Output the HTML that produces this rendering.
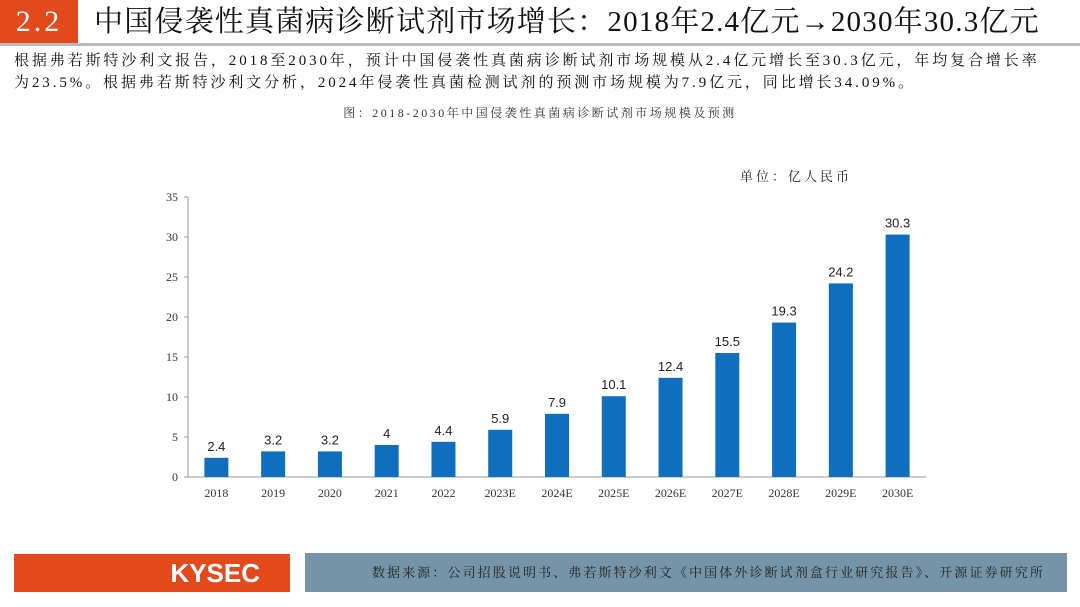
<!DOCTYPE html>
<html><head><meta charset="utf-8"><style>
body{margin:0;width:1080px;height:607px;background:#fff;position:relative;overflow:hidden;font-family:"Liberation Serif","Noto Serif CJK SC",serif;}
.abs{position:absolute;}
</style></head><body>
<div class="abs" style="left:0;top:0;width:78px;height:43px;background:#e2491c;color:#fff;font-size:30px;line-height:43px;text-align:center;letter-spacing:3px;">2.2</div>
<div class="abs" style="left:94px;top:2px;font-size:29px;line-height:40px;color:#111;white-space:nowrap;letter-spacing:1.2px;">中国侵袭性真菌病诊断试剂市场增长：2018年2.4亿元→2030年30.3亿元</div>
<div class="abs" style="left:0;top:43px;width:1080px;height:3px;background:#b8bcc0;"></div>
<div class="abs" style="left:14px;top:50px;width:1066px;font-size:15px;line-height:22px;color:#111;white-space:nowrap;letter-spacing:2.9px;">根据弗若斯特沙利文报告，2018至2030年，预计中国侵袭性真菌病诊断试剂市场规模从2.4亿元增长至30.3亿元，年均复合增长率<br>为23.5%。根据弗若斯特沙利文分析，2024年侵袭性真菌检测试剂的预测市场规模为7.9亿元，同比增长34.09%。</div>
<div class="abs" style="left:0;top:104px;width:1080px;text-align:center;font-size:12px;color:#333;letter-spacing:2.5px;">图：2018-2030年中国侵袭性真菌病诊断试剂市场规模及预测</div>
<div class="abs" style="left:740px;top:166px;font-size:13px;color:#222;letter-spacing:3px;">单位：亿人民币</div>
<svg class="abs" style="left:0;top:0" width="1080" height="607" id="chart"></svg>
<div class="abs" style="left:14px;top:554px;width:276px;height:38px;background:#e2491c;color:#fff;font-family:'Liberation Sans',sans-serif;font-weight:bold;font-size:26px;line-height:38px;text-align:right;"><span style="margin-right:30px">KYSEC</span></div>
<div class="abs" style="left:305px;top:553px;width:762px;height:39px;background:#7594a8;color:#222;font-size:13px;line-height:39px;text-align:right;white-space:nowrap;"><span style="margin-right:22px;letter-spacing:2.1px;">数据来源：公司招股说明书、弗若斯特沙利文《中国体外诊断试剂盒行业研究报告》、开源证券研究所</span></div>
<script>
const categories=["2018","2019","2020","2021","2022","2023E","2024E","2025E","2026E","2027E","2028E","2029E","2030E"];
const values=[2.4,3.2,3.2,4,4.4,5.9,7.9,10.1,12.4,15.5,19.3,24.2,30.3];
const yTicks=[0,5,10,15,20,25,30,35];
const svg=document.getElementById('chart');const NS='http://www.w3.org/2000/svg';
const x0=188,x1=926,yb=477,yt=197,yMax=35;
const y=v=>yb-(yb-yt)*v/yMax;
const step=(x1-x0)/categories.length;
const xc=i=>x0+step*(i+0.5);
function mk(t,a,txt){const e=document.createElementNS(NS,t);for(const k in a)e.setAttribute(k,a[k]);if(txt!=null)e.textContent=txt;svg.appendChild(e);return e;}
let ax=mk('line',{x1:x0,y1:yt,x2:x0,y2:yb,stroke:'#999'});


let bx=mk('line',{x1:x0,y1:yb,x2:x1,y2:yb,stroke:'#999'});


yTicks.forEach(t=>{
 let tk=mk('line',{x1:x0-4,y1:y(t),x2:x0,y2:y(t),stroke:'#999'});
 
 
 let l=mk('text',{x:x0-10,y:y(t)+4,'text-anchor':'end','font-size':12,fill:'#333'},t);
 
 
});
categories.forEach((c,i)=>{
 const v=values[i];
 let r=mk('rect',{x:xc(i)-12,y:y(v),width:24,height:yb-y(v),fill:'#0f6ebe'});
 
 
 let vl=mk('text',{x:xc(i),y:y(v)-7,'text-anchor':'middle','font-size':13,fill:'#222','font-family':'Liberation Sans,sans-serif'},v);
 
 
 let cl=mk('text',{x:xc(i),y:yb+20,'text-anchor':'middle','font-size':12,fill:'#333'},c);
 
 
});
</script>
</body></html>
